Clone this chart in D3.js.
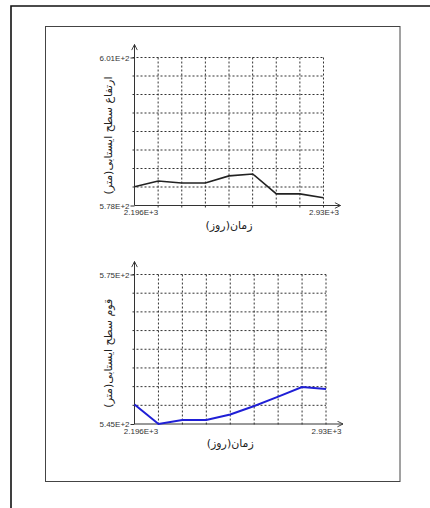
<!DOCTYPE html>
<html>
<head>
<meta charset="utf-8">
<script src="https://cdn.jsdelivr.net/npm/d3@7"></script>
<style>
  body { margin: 0; background: #fff; }
  text { font-family: "Liberation Sans", Arial, sans-serif; }
  .fa { font-family: "DejaVu Sans", sans-serif; }
</style>
</head>
<body>
<div id="chart"></div>
<script>
// time (days) at each sample
var days = [2196, 2288, 2379, 2471, 2563, 2655, 2747, 2838, 2930];
// water table elevation (m)
var levelTop = [580.9, 581.8, 581.5, 581.5, 582.6, 582.9, 579.8, 579.8, 579.2];
var levelBottom = [548.9, 545.0, 545.8, 545.8, 546.9, 548.6, 550.5, 552.4, 552.0];

var xTickLabels = ["2.196E+3", "2.93E+3"];
var yTickLabelsTop = ["5.78E+2", "6.01E+2"];
var yTickLabelsBottom = ["5.45E+2", "5.75E+2"];
var yDomainTop = [578, 601];
var yDomainBottom = [545, 575];

var xTitle = "زمان(روز)";
var yTitleTop = "ارتفاع سطح ایستابی(متر)";
var yTitleBottom = "قوم سطح ایستابی(متر)";

var width = 430, height = 508;

var svg = d3.select("#chart").append("svg")
    .attr("width", width)
    .attr("height", height);

svg.append("rect").attr("width", width).attr("height", height).attr("fill", "#fff");

// outer frame (only top and left visible)
svg.append("path")
    .attr("d", "M11,508 L11,6 L430,6")
    .attr("fill", "none")
    .attr("stroke", "#111")
    .attr("stroke-width", 1.6);

// inner box
svg.append("rect")
    .attr("x", 45.5).attr("y", 26.5)
    .attr("width", 354.5).attr("height", 455)
    .attr("fill", "none")
    .attr("stroke", "#444")
    .attr("stroke-width", 1);

var defs = svg.append("defs");
defs.append("marker")
    .attr("id", "arrow")
    .attr("viewBox", "0 0 10 10")
    .attr("refX", 9).attr("refY", 5)
    .attr("markerWidth", 7).attr("markerHeight", 7)
    .attr("orient", "auto")
    .append("path")
    .attr("d", "M1,1 L9,5 L1,9")
    .attr("fill", "none")
    .attr("stroke", "#333")
    .attr("stroke-width", 1.3);

function drawChart(opts) {
    var g = svg.append("g");
    var x = d3.scaleLinear().domain([days[0], days[days.length - 1]]).range([opts.left, opts.right]);
    var y = d3.scaleLinear().domain(opts.yDomain).range([opts.bottom, opts.top]);

    var n = 8;
    var xGrid = d3.range(n + 1).map(i => x.domain()[0] + i * (x.domain()[1] - x.domain()[0]) / n);
    var yGrid = d3.range(n + 1).map(i => y.domain()[0] + i * (y.domain()[1] - y.domain()[0]) / n);

    // dotted grid
    g.selectAll("line.vg").data(xGrid.slice(1)).enter().append("line")
        .attr("class", "vg")
        .attr("x1", d => x(d)).attr("x2", d => x(d))
        .attr("y1", opts.top).attr("y2", opts.bottom + 2)
        .attr("stroke", "#333").attr("stroke-width", 1)
        .attr("stroke-dasharray", "2,2");
    g.selectAll("line.hg").data(yGrid.slice(1)).enter().append("line")
        .attr("class", "hg")
        .attr("x1", opts.left - 2).attr("x2", opts.right)
        .attr("y1", d => y(d)).attr("y2", d => y(d))
        .attr("stroke", "#333").attr("stroke-width", 1)
        .attr("stroke-dasharray", "2,2");

    // axes with arrows
    g.append("line")
        .attr("x1", opts.left).attr("x2", opts.left)
        .attr("y1", opts.bottom).attr("y2", opts.top - 13)
        .attr("stroke", "#333").attr("stroke-width", 1)
        .attr("marker-end", "url(#arrow)");
    g.append("line")
        .attr("x1", opts.left).attr("x2", opts.right + 17)
        .attr("y1", opts.bottom).attr("y2", opts.bottom)
        .attr("stroke", "#333").attr("stroke-width", 1)
        .attr("marker-end", "url(#arrow)");

    // tick labels
    var yAxis = d3.axisLeft(y).tickValues(opts.yDomain)
        .tickFormat((d, i) => opts.yLabels[i]).tickSize(4).tickPadding(1);
    var ya = g.append("g").attr("transform", "translate(" + opts.left + ",0)").call(yAxis);
    ya.select(".domain").remove();
    ya.selectAll("line").attr("stroke", "#333");
    ya.selectAll("text").attr("font-size", 8).attr("fill", "#333")
        .attr("font-family", "Liberation Sans, Arial, sans-serif");

    var xAxis = d3.axisBottom(x).tickValues(x.domain())
        .tickFormat((d, i) => xTickLabels[i]).tickSize(0).tickPadding(4);
    var xa = g.append("g").attr("transform", "translate(0," + opts.bottom + ")").call(xAxis);
    xa.select(".domain").remove();
    xa.selectAll("text").attr("font-size", 8).attr("fill", "#333")
        .attr("font-family", "Liberation Sans, Arial, sans-serif")
        .attr("dx", (d, i) => i === 0 ? 6 : 0);

    // data line
    var line = d3.line().x((d, i) => x(days[i])).y(d => y(d));
    g.append("path")
        .datum(opts.values)
        .attr("d", line)
        .attr("fill", "none")
        .attr("stroke", opts.color)
        .attr("stroke-width", opts.lineWidth);

    // titles
    g.append("text").attr("class", "fa")
        .attr("x", (opts.left + opts.right) / 2)
        .attr("y", opts.bottom + 23)
        .attr("text-anchor", "middle")
        .attr("font-size", 11)
        .attr("fill", "#222")
        .text(xTitle);
    g.append("text").attr("class", "fa")
        .attr("transform", "translate(" + 112 + "," + ((opts.top + opts.bottom) / 2 + 4) + ") rotate(-90)")
        .attr("text-anchor", "middle")
        .attr("font-size", 11)
        .attr("fill", "#222")
        .text(opts.yTitle);
}

drawChart({ left: 134.5, right: 323.5, top: 57.5, bottom: 205.5,
    yDomain: yDomainTop, yLabels: yTickLabelsTop, values: levelTop,
    color: "#222", lineWidth: 1.6, yTitle: yTitleTop });

drawChart({ left: 134.5, right: 326, top: 274.5, bottom: 424,
    yDomain: yDomainBottom, yLabels: yTickLabelsBottom, values: levelBottom,
    color: "#1f1fd6", lineWidth: 2, yTitle: yTitleBottom });
</script>
</body>
</html>
